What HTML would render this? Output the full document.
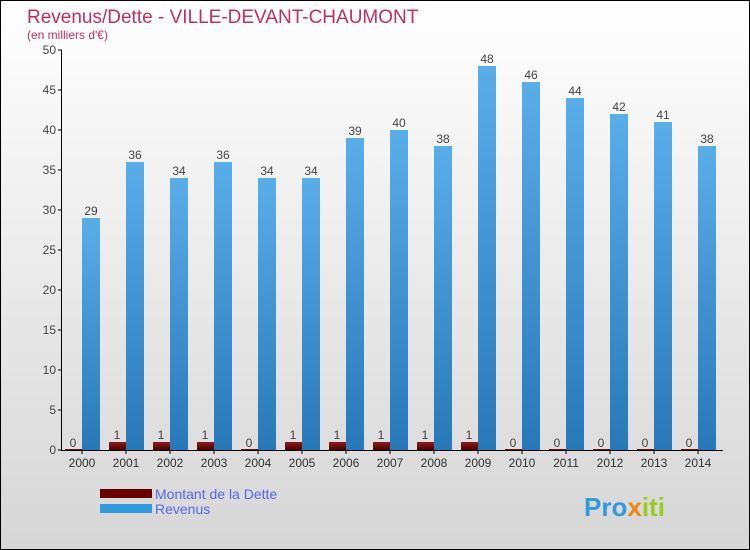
<!DOCTYPE html>
<html><head><meta charset="utf-8"><style>
body{margin:0}
#c{width:748px;height:548px;border:1px solid #000;background:linear-gradient(#fff,#d6d6d6);position:relative;font-family:"Liberation Sans",sans-serif}
</style></head><body>
<div id="c">
<svg id="s" width="748" height="548" style="position:absolute;left:0;top:0">
<defs>
<linearGradient id="gr" x1="0" y1="0" x2="0" y2="1"><stop offset="0" stop-color="#5aaee8"/><stop offset="1" stop-color="#2878b8"/></linearGradient>
<linearGradient id="gd" x1="0" y1="0" x2="0" y2="1"><stop offset="0" stop-color="#8a1c1c"/><stop offset="1" stop-color="#4a0000"/></linearGradient>
</defs>
<text x="26" y="22" font-size="19" fill="#c0305e">Revenus/Dette - VILLE-DEVANT-CHAUMONT</text>
<text x="26" y="38" font-size="12" fill="#c0305e">(en milliers d'€)</text>
<rect x="99" y="488" width="52" height="9" fill="#660000"/>
<rect x="99" y="503" width="52" height="9" fill="#3399dd"/>
<text x="154" y="498" font-size="14" fill="#5566ee">Montant de la Dette</text>
<text x="154" y="513" font-size="14" fill="#5566ee">Revenus</text>
<text x="583" y="515" font-size="26" font-weight="bold" fill="#3399dd">Pro<tspan fill="#ee8811">x</tspan><tspan fill="#99cc22">iti</tspan></text>
</svg>
</div>
<script>
const years=["2000","2001","2002","2003","2004","2005","2006","2007","2008","2009","2010","2011","2012","2013","2014"];
const dette=[0,1,1,1,0,1,1,1,1,1,0,0,0,0,0];
const revenus=[29,36,34,36,34,34,39,40,38,48,46,44,42,41,38];
const yTicks=[0,5,10,15,20,25,30,35,40,45,50];
const s=document.getElementById('s'),NS="http://www.w3.org/2000/svg";
const y=v=>449-v*8, xc=i=>81+44*i;
function mk(t,a){const e=document.createElementNS(NS,t);for(const k in a)e.setAttribute(k,a[k]);s.appendChild(e);return e;}
yTicks.forEach(v=>{
 const l=mk('line',{x1:57,x2:61,y1:y(v),y2:y(v),stroke:'#000'});
 
 
 const t=mk('text',{x:55,y:y(v)+4,'font-size':12,fill:'#444','text-anchor':'end'});t.textContent=v;
 
 
});
years.forEach((yr,i)=>{
 const c=xc(i);
 const d=mk('rect',{x:c-17,y:y(dette[i])-(dette[i]?0:1),width:17,height:dette[i]*8+(dette[i]?0:1),fill:'url(#gd)'});
 
 
 const r=mk('rect',{x:c,y:y(revenus[i]),width:18,height:revenus[i]*8,fill:'url(#gr)'});
 
 
 const t1=mk('text',{x:c-9,y:y(dette[i])-3,'font-size':12,fill:'#444','text-anchor':'middle'});t1.textContent=dette[i];
 
 
 const t2=mk('text',{x:c+9,y:y(revenus[i])-3,'font-size':12,fill:'#444','text-anchor':'middle'});t2.textContent=revenus[i];
 
 
 const tk=mk('line',{x1:c,x2:c,y1:449,y2:453,stroke:'#000'});
 
 
 const xl=mk('text',{x:c,y:466,'font-size':12,fill:'#333','text-anchor':'middle'});xl.textContent=yr;
 
 
});
const ya=mk('line',{x1:60.5,x2:60.5,y1:49,y2:450,stroke:'#000'});


const xa=mk('line',{x1:60,x2:722,y1:449.5,y2:449.5,stroke:'#000'});


</script>
</body></html>
